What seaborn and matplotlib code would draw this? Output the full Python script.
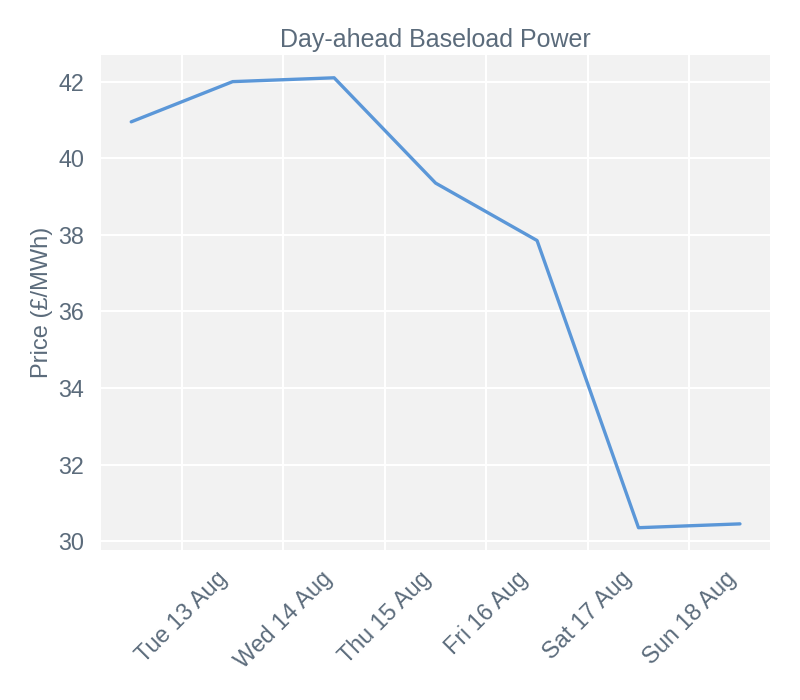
import pandas as pd
import seaborn as sns
from matplotlib import pyplot as plt
import matplotlib.dates as mdates

# day-ahead baseload prices, delivered mid-day
dates = ["2019-08-12 12:00", "2019-08-13 12:00", "2019-08-14 12:00", "2019-08-15 12:00",
         "2019-08-16 12:00", "2019-08-17 12:00", "2019-08-18 12:00"]
prices = [40.95, 42.0, 42.1, 39.35, 37.85, 30.35, 30.45]
tick_dates = ["2019-08-13", "2019-08-14", "2019-08-15", "2019-08-16", "2019-08-17", "2019-08-18"]

df = pd.DataFrame({"date": pd.to_datetime(dates), "price": prices})

text_col = "#5b6b7b"
sns.set_style("darkgrid", {"axes.facecolor": "#f2f2f2", "grid.color": "white"})
plt.rcParams["font.family"] = ["Liberation Sans", "DejaVu Sans"]

fig, ax = plt.subplots(figsize=(8, 7), dpi=100)
sns.lineplot(data=df, x="date", y="price", ax=ax, color="#5b97d8", linewidth=2.4)

ax.set_xticks(pd.to_datetime(tick_dates))
ax.xaxis.set_major_formatter(mdates.DateFormatter("%a %d %b"))
plt.xticks(rotation=45)
ax.set_yticks([30, 32, 34, 36, 38, 40, 42])
ax.grid(linewidth=1.5)
ax.tick_params(colors=text_col, labelsize=16.8, length=0, pad=12)
ax.set_xlabel("")
ax.set_ylabel("Price (£/MWh)", color=text_col, fontsize=17, labelpad=4)
ax.set_title("Day-ahead Baseload Power", color=text_col, fontsize=18, pad=6)
for s in ax.spines.values():
    s.set_visible(False)

plt.subplots_adjust(left=0.126, right=0.963, top=0.921, bottom=0.214)
plt.savefig("out.png")
